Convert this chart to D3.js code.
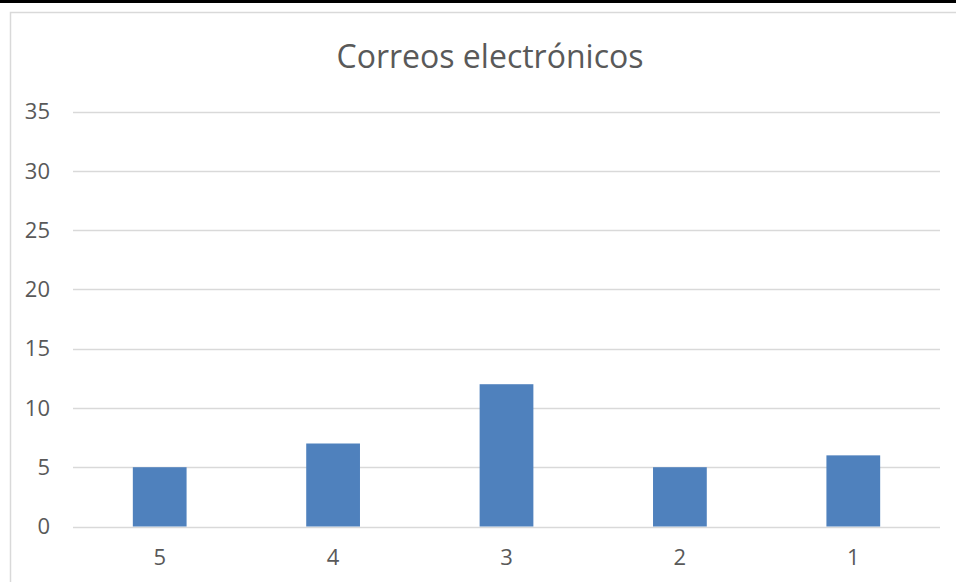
<!DOCTYPE html>
<html>
<head>
<meta charset="utf-8">
<script src="https://cdn.jsdelivr.net/npm/d3@7"></script>
<style>
  html, body { margin: 0; padding: 0; background: #fff; }
  svg { display: block; }
</style>
</head>
<body>
<svg id="chart" width="956" height="582"></svg>
<script>
// Email counts per rating category
const categories = ["5", "4", "3", "2", "1"];
const values = [5, 7, 12, 5, 6];
const yTicks = [0, 5, 10, 15, 20, 25, 30, 35];
const title = "Correos electrónicos";

const svg = d3.select("#chart");
const W = 956, H = 582;
const font = "'Open Sans', sans-serif";
const textColor = "#595959";

// top strip and chart frame
svg.append("rect").attr("x", 0).attr("y", 0).attr("width", W).attr("height", 3).attr("fill", "#000");
svg.append("path")
  .attr("d", "M10.5,582 V12.5 H956")
  .attr("fill", "none").attr("stroke", "#d9d9d9").attr("stroke-width", 1.5);

const plot = { left: 73, right: 940, top: 111.5, bottom: 526.5 };

const x = d3.scaleBand().domain(categories).range([plot.left, plot.right]).paddingInner(0.69).paddingOuter(0.345);
const y = d3.scaleLinear().domain([0, 35]).range([plot.bottom, plot.top]);

// gridlines
svg.append("g").selectAll("line").data(yTicks).join("line")
  .attr("x1", plot.left).attr("x2", plot.right)
  .attr("y1", d => Math.round(y(d)) + 0.5).attr("y2", d => Math.round(y(d)) + 0.5)
  .attr("stroke", "#d9d9d9").attr("stroke-width", 1.3);

// y axis labels
const yAxis = d3.axisLeft(y).tickValues(yTicks).tickSize(0).tickPadding(0);
const gy = svg.append("g").attr("transform", "translate(50,0)").call(yAxis);
gy.attr("font-family", font).attr("font-size", 22);
gy.select(".domain").remove();
gy.selectAll("text").attr("fill", textColor).attr("dy", "0.33em");

// bars
svg.append("g").selectAll("rect").data(values).join("rect")
  .attr("x", (d, i) => x(categories[i]))
  .attr("width", x.bandwidth())
  .attr("y", d => y(d))
  .attr("height", d => y(0) - y(d))
  .attr("fill", "#4f81bd");

// x axis labels
const xAxis = d3.axisBottom(x).tickSize(0).tickPadding(0);
const gx = svg.append("g").attr("transform", "translate(0,565)").call(xAxis);
gx.attr("font-family", font).attr("font-size", 22);
gx.select(".domain").remove();
gx.selectAll("text").attr("fill", textColor).attr("dy", 0);

// title
svg.append("text")
  .attr("x", 490).attr("y", 68)
  .attr("text-anchor", "middle")
  .attr("font-family", font).attr("font-size", 32).attr("fill", textColor)
  .text(title);
</script>
</body>
</html>
